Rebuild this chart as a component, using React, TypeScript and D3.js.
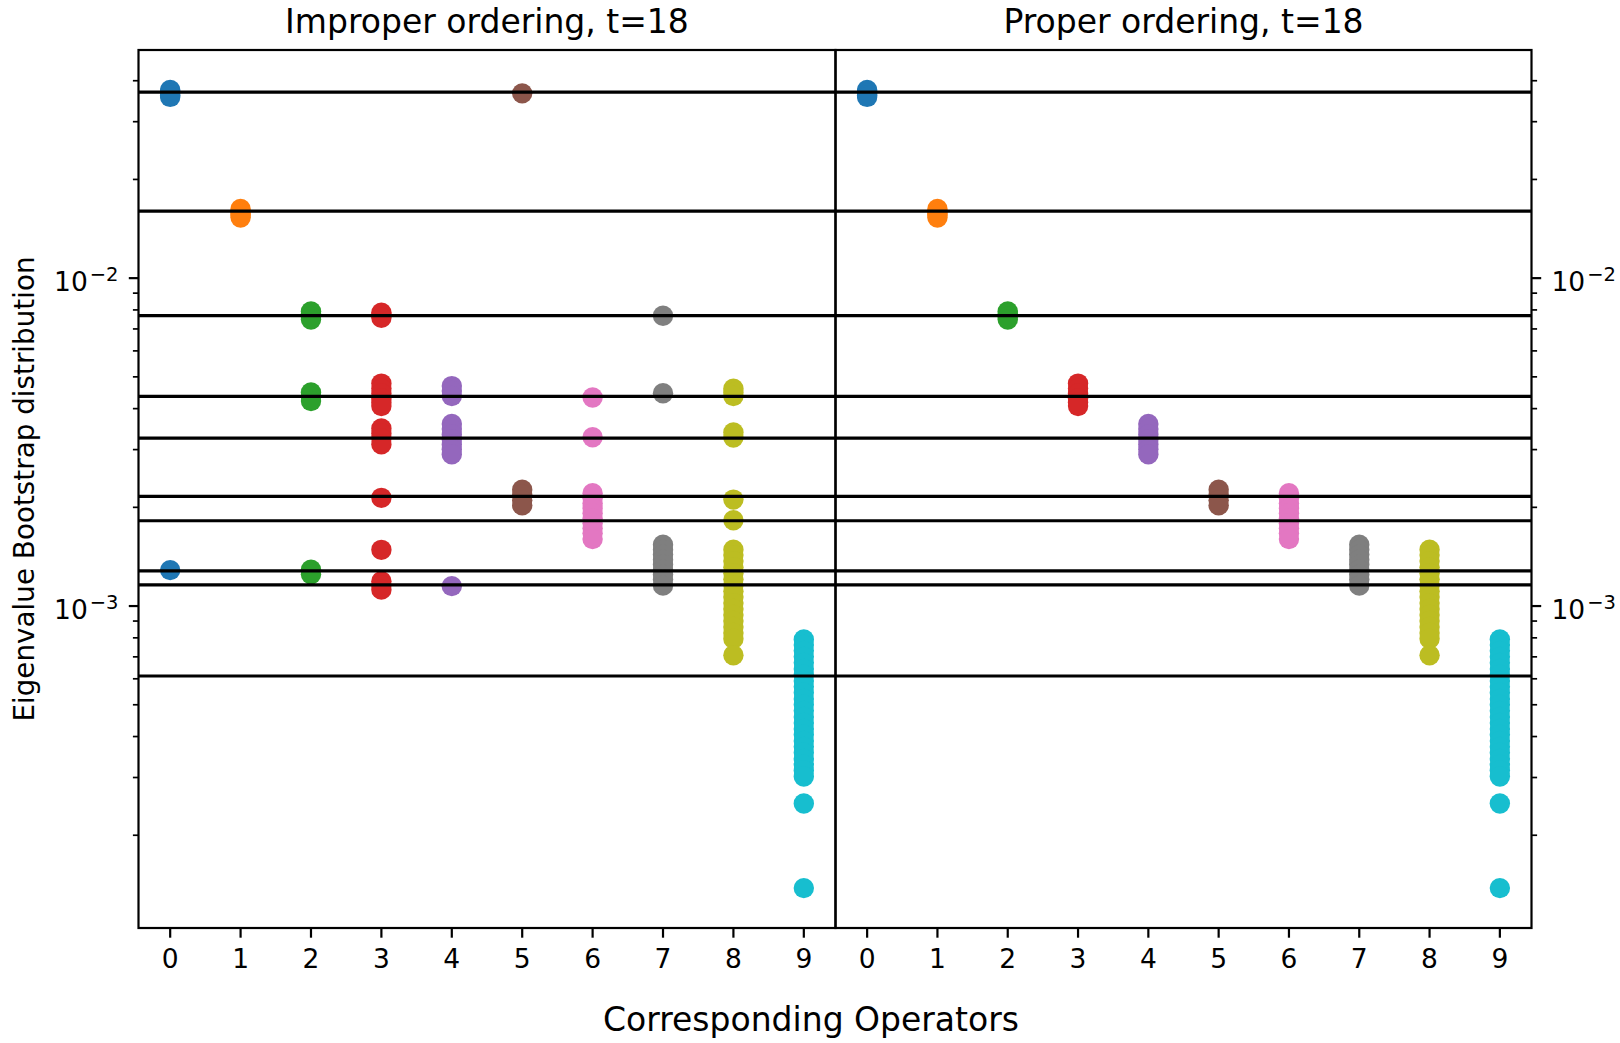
import React from 'react';
import * as d3 from 'd3';

// Operator indices on the x axis
const operators = [0, 1, 2, 3, 4, 5, 6, 7, 8, 9];
const xTickLabels = ['0', '1', '2', '3', '4', '5', '6', '7', '8', '9'];

// matplotlib tab10 colours, one per operator
const palette = [
  '#1f77b4', '#ff7f0e', '#2ca02c', '#d62728', '#9467bd',
  '#8c564b', '#e377c2', '#7f7f7f', '#bcbd22', '#17becf',
];

const panelTitles = ['Improper ordering, t=18', 'Proper ordering, t=18'];

// Horizontal reference levels drawn across both panels
const referenceLevels = [
  0.0369, 0.0160, 0.00769, 0.00436, 0.00325, 0.00216, 0.00182, 0.00128, 0.00116, 0.000612,
];

// Bootstrap eigenvalue samples, improper ordering
const improper0 = [0.0375, 0.0370, 0.0365, 0.0361, 0.0357, 0.001287];
const improper1 = [0.01625, 0.0160, 0.0158, 0.01558, 0.0153];
const improper2 = [0.00792, 0.00779, 0.00763, 0.00748, 0.00448, 0.00435, 0.00422, 0.00129, 0.00125];
const improper3 = [
  0.00784, 0.0077, 0.00757,
  0.004769, 0.004604, 0.004446, 0.004293, 0.004174, 0.004073,
  0.003479, 0.00336, 0.003245, 0.003112,
  0.002138, 0.001484,
  0.001191, 0.001158, 0.001122,
];
const improper4 = [
  0.004686, 0.004525, 0.004369,
  0.00359, 0.003467, 0.003336, 0.003222, 0.003112, 0.003005, 0.002901,
  0.00115,
];
const improper5 = [0.0366, 0.002262, 0.002184, 0.002102, 0.002029];
const improper6 = [
  0.004323, 0.003273,
  0.002207, 0.002131, 0.002057, 0.001986, 0.001918, 0.001852, 0.001788, 0.001727, 0.001667, 0.0016,
];
const improper7 = [
  0.007678, 0.004456,
  0.001539, 0.001486, 0.001435, 0.001385, 0.001338, 0.001291, 0.001247, 0.001204, 0.001154,
];
const improper8 = [
  0.004604, 0.004477, 0.004369, 0.003383, 0.003266, 0.002112, 0.001826,
  0.001486, 0.00143, 0.001371, 0.001314, 0.00126, 0.001208, 0.001158, 0.00111,
  0.001065, 0.001021, 0.000979, 0.000939, 0.0009, 0.000863, 0.000828, 0.000795,
  0.000708,
];
const improper9 = [
  0.000791, 0.000761, 0.00073, 0.0007, 0.000671, 0.000643, 0.000617, 0.000591,
  0.000567, 0.000544, 0.000521, 0.0005, 0.000479, 0.000459, 0.00044, 0.000422,
  0.000405, 0.000388, 0.000372, 0.000357, 0.000342, 0.000328, 0.000315, 0.000302,
  0.00025, 0.000138,
];

// Bootstrap eigenvalue samples, proper ordering
const proper0 = [0.0375, 0.0370, 0.0365, 0.0361, 0.0357];
const proper1 = [0.01625, 0.0160, 0.0158, 0.01558, 0.0153];
const proper2 = [0.00792, 0.00779, 0.00763, 0.00748];
const proper3 = [0.004769, 0.004604, 0.004446, 0.004293, 0.004174, 0.004073];
const proper4 = [0.00359, 0.003467, 0.003336, 0.003222, 0.003112, 0.003005, 0.002901];
const proper5 = [0.002262, 0.002184, 0.002102, 0.002029];
const proper6 = [
  0.002207, 0.002131, 0.002057, 0.001986, 0.001918, 0.001852, 0.001788, 0.001727, 0.001667, 0.0016,
];
const proper7 = [
  0.001539, 0.001486, 0.001435, 0.001385, 0.001338, 0.001291, 0.001247, 0.001204, 0.001154,
];
const proper8 = [
  0.001486, 0.00143, 0.001371, 0.001314, 0.00126, 0.001208, 0.001158, 0.00111,
  0.001065, 0.001021, 0.000979, 0.000939, 0.0009, 0.000863, 0.000828, 0.000795,
  0.000708,
];
const proper9 = [
  0.000791, 0.000761, 0.00073, 0.0007, 0.000671, 0.000643, 0.000617, 0.000591,
  0.000567, 0.000544, 0.000521, 0.0005, 0.000479, 0.000459, 0.00044, 0.000422,
  0.000405, 0.000388, 0.000372, 0.000357, 0.000342, 0.000328, 0.000315, 0.000302,
  0.00025, 0.000138,
];

const improperSeries = [
  improper0, improper1, improper2, improper3, improper4,
  improper5, improper6, improper7, improper8, improper9,
];
const properSeries = [
  proper0, proper1, proper2, proper3, proper4,
  proper5, proper6, proper7, proper8, proper9,
];

const W = 1620;
const H = 1043;
const TOP = 50;
const BOTTOM = 928;
const FONT = "'DejaVu Sans', Verdana, sans-serif";
const MARKER_R = 10.2;

export default function App() {
  // log-space autoscale with 5% margins, as matplotlib does
  const all = [...improperSeries.flat(), ...properSeries.flat()];
  const lo = Math.log10(d3.min(all) as number);
  const hi = Math.log10(d3.max(all) as number);
  const pad = (hi - lo) * 0.05;
  const y = d3.scaleLog().domain([10 ** (lo - pad), 10 ** (hi + pad)]).range([BOTTOM, TOP]);

  const [dMin, dMax] = y.domain();
  const yTicks = y.ticks().filter((t) => t >= dMin && t <= dMax);
  const isMajor = (t: number) => Math.abs(Math.log10(t) - Math.round(Math.log10(t))) < 1e-9;

  const panels = [
    { title: panelTitles[0], series: improperSeries, x0: 138.5, x1: 835.5, side: 'left' },
    { title: panelTitles[1], series: properSeries, x0: 835.5, x1: 1531.5, side: 'right' },
  ];

  return (
    <svg
      width={W}
      height={H}
      viewBox={`0 0 ${W} ${H}`}
      style={{ position: 'absolute', left: 0, top: 0, background: '#fff' }}
      fontFamily={FONT}
    >
      <rect x={0} y={0} width={W} height={H} fill="#fff" />
      <defs>
        {panels.map((p, pi) => (
          <clipPath id={`clip-${pi}`} key={pi}>
            <rect x={p.x0} y={TOP} width={p.x1 - p.x0} height={BOTTOM - TOP} />
          </clipPath>
        ))}
      </defs>
      {panels.map((p, pi) => {
        const x = d3.scaleLinear().domain([-0.45, 9.45]).range([p.x0, p.x1]);
        const cx = (p.x0 + p.x1) / 2;
        return (
          <g key={pi}>
            <g clipPath={`url(#clip-${pi})`}>
              {p.series.map((vals, oi) => (
                <g key={oi} fill={palette[oi]}>
                  {vals.map((v, k) => (
                    <circle key={k} cx={x(operators[oi])} cy={y(v)} r={MARKER_R} />
                  ))}
                </g>
              ))}
              {referenceLevels.map((v, li) => (
                <line
                  key={li}
                  x1={p.x0}
                  x2={p.x1}
                  y1={y(v)}
                  y2={y(v)}
                  stroke="#000"
                  strokeWidth={3.2}
                />
              ))}
            </g>
            <rect
              x={p.x0}
              y={TOP}
              width={p.x1 - p.x0}
              height={BOTTOM - TOP}
              fill="none"
              stroke="#000"
              strokeWidth={2.2}
            />
            {/* x axis */}
            {operators.map((o, i) => (
              <g key={o}>
                <line x1={x(o)} x2={x(o)} y1={BOTTOM} y2={BOTTOM + 9.7} stroke="#000" strokeWidth={2.2} />
                <text x={x(o)} y={967.5} textAnchor="middle" fontSize={26.5} fill="#000">
                  {xTickLabels[i]}
                </text>
              </g>
            ))}
            {/* y axis */}
            {yTicks.map((t, ti) => {
              const major = isMajor(t);
              const len = major ? 9.7 : 5.6;
              const ax = p.side === 'left' ? p.x0 : p.x1;
              const dir = p.side === 'left' ? -1 : 1;
              const exp = Math.round(Math.log10(t));
              return (
                <g key={ti}>
                  <line
                    x1={ax}
                    x2={ax + dir * len}
                    y1={y(t)}
                    y2={y(t)}
                    stroke="#000"
                    strokeWidth={major ? 2.2 : 1.7}
                  />
                  {major && (
                    <text
                      x={p.side === 'left' ? ax - 20 : ax + 20}
                      y={y(t) + 12.5}
                      textAnchor={p.side === 'left' ? 'end' : 'start'}
                      fontSize={26.5}
                      fill="#000"
                    >
                      10
                      <tspan dx={2} dy={-9.5} fontSize={19.5}>
                        {`\u2212${Math.abs(exp)}`}
                      </tspan>
                    </text>
                  )}
                </g>
              );
            })}
            <text x={cx} y={33} textAnchor="middle" fontSize={33} fill="#000">
              {p.title}
            </text>
          </g>
        );
      })}
      <text
        transform={`translate(34, ${(TOP + BOTTOM) / 2}) rotate(-90)`}
        textAnchor="middle"
        fontSize={27.8}
        fill="#000"
      >
        Eigenvalue Bootstrap distribution
      </text>
      <text x={811} y={1031} textAnchor="middle" fontSize={33} fill="#000">
        Corresponding Operators
      </text>
    </svg>
  );
}
